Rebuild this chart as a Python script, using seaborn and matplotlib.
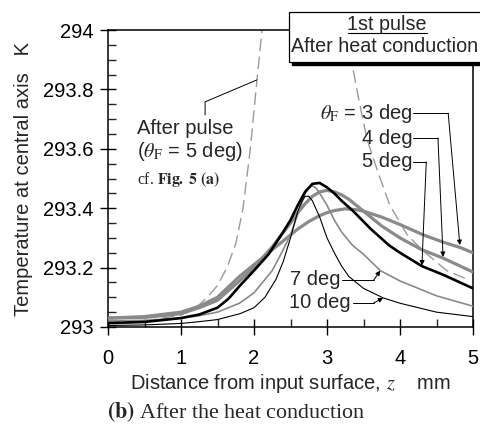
import numpy as np
import pandas as pd
import matplotlib
matplotlib.use("Agg")
import matplotlib.pyplot as plt
import seaborn as sns
from matplotlib.patches import Rectangle
from matplotlib.lines import Line2D
from matplotlib.ticker import MultipleLocator, FixedLocator, FixedFormatter

# ---------------- data ----------------
x_pulse = [0, 0.5, 1.0, 1.12, 1.25, 1.36, 1.5, 1.63, 1.75, 1.85, 1.95, 2.04, 2.11, 2.3, 2.6, 2.9,
           3.2, 3.34, 3.44, 3.55, 3.7, 3.86, 4.1, 4.3, 4.64, 4.93]
y_pulse = [293.02, 293.02, 293.04, 293.055, 293.075, 293.10, 293.14, 293.20, 293.28, 293.40,
           293.60, 293.83, 294.0, 294.3, 294.55, 294.5, 294.15, 293.89, 293.76, 293.63, 293.52,
           293.41, 293.31, 293.26, 293.19, 293.16]

x_3 = [0, 0.5, 1.0, 1.25, 1.5, 1.8, 2.0, 2.25, 2.5, 2.6, 2.75, 2.9, 3.0, 3.1, 3.25, 3.4, 3.5, 3.75,
       4.0, 4.32, 4.6, 4.82, 5.0]
y_3 = [293.03, 293.035, 293.05, 293.07, 293.10, 293.17, 293.21, 293.26, 293.31, 293.33, 293.355,
       293.375, 293.385, 293.392, 293.398, 293.395, 293.39, 293.37, 293.345, 293.31, 293.285,
       293.268, 293.25]

x_4 = [0, 0.5, 1.0, 1.25, 1.5, 1.8, 2.0, 2.25, 2.5, 2.6, 2.7, 2.8, 2.9, 3.0, 3.1, 3.2, 3.3, 3.4,
       3.5, 3.75, 4.0, 4.3, 4.59, 5.0]
y_4 = [293.03, 293.032, 293.045, 293.065, 293.09, 293.155, 293.2, 293.27, 293.35, 293.385,
       293.415, 293.44, 293.455, 293.46, 293.455, 293.445, 293.43, 293.41, 293.39, 293.34, 293.30,
       293.26, 293.232, 293.185]

x_5 = [0, 0.5, 1.0, 1.25, 1.5, 1.65, 1.81, 2.0, 2.2, 2.4, 2.5, 2.6, 2.7, 2.8, 2.9, 3.0, 3.1, 3.2,
       3.36, 3.5, 3.6, 3.85, 4.0, 4.3, 4.6, 5.0]
y_5 = [293.013, 293.017, 293.03, 293.042, 293.065, 293.095, 293.14, 293.19, 293.245, 293.32,
       293.36, 293.41, 293.455, 293.482, 293.485, 293.47, 293.45, 293.425, 293.39, 293.355,
       293.33, 293.275, 293.25, 293.205, 293.175, 293.13]

x_7 = [0, 0.5, 1.0, 1.25, 1.5, 1.8, 2.0, 2.25, 2.4, 2.5, 2.6, 2.7, 2.75, 2.8, 2.85, 2.9, 3.0, 3.1,
       3.2, 3.35, 3.5, 3.73, 4.0, 4.5, 5.0]
y_7 = [293.02, 293.022, 293.03, 293.038, 293.05, 293.08, 293.115, 293.19, 293.26, 293.31,
       293.38, 293.45, 293.47, 293.475, 293.468, 293.45, 293.41, 293.36, 293.32, 293.275, 293.245,
       293.19, 293.155, 293.105, 293.07]

x_10 = [0, 0.5, 1.0, 1.25, 1.5, 1.81, 2.0, 2.15, 2.3, 2.4, 2.5, 2.6, 2.65, 2.7, 2.75, 2.8, 2.9,
        3.0, 3.1, 3.2, 3.3, 3.4, 3.5, 3.77, 4.0, 4.5, 5.0]
y_10 = [293.005, 293.007, 293.012, 293.018, 293.025, 293.045, 293.065, 293.1, 293.16, 293.22,
        293.30, 293.39, 293.42, 293.44, 293.44, 293.425, 293.37, 293.30, 293.25, 293.205, 293.17,
        293.15, 293.13, 293.098, 293.08, 293.05, 293.035]

x_ticks = [0, 1, 2, 3, 4, 5]
y_ticks = [293, 293.2, 293.4, 293.6, 293.8, 294]
y_tick_labels = ["293", "293.2", "293.4", "293.6", "293.8", "294"]

# ---------------- style ----------------
sns.set_style("ticks")
plt.rcParams["font.family"] = ["Liberation Sans", "DejaVu Sans"]
plt.rcParams["mathtext.fontset"] = "stix"
FS = 14.5
GRAY = "#8a8a8a"

fig = plt.figure(figsize=(4.8, 4.3), dpi=100)
W, H = 480.0, 430.0
ax = fig.add_axes([108 / W, 1 - 327 / H, (473 - 108) / W, (327 - 30) / H])

sns.lineplot(x=x_pulse, y=y_pulse, ax=ax, color="#9a9a9a", lw=1.0, zorder=2)
ax.lines[-1].set_dashes((9, 4))
sns.lineplot(x=x_3, y=y_3, ax=ax, color=GRAY, lw=2.3, zorder=3)
sns.lineplot(x=x_4, y=y_4, ax=ax, color=GRAY, lw=2.3, zorder=3)
sns.lineplot(x=x_7, y=y_7, ax=ax, color=GRAY, lw=1.2, zorder=4)
sns.lineplot(x=x_10, y=y_10, ax=ax, color="black", lw=0.8, zorder=4)
sns.lineplot(x=x_5, y=y_5, ax=ax, color="black", lw=1.9, zorder=5)
for ln in ax.lines:
    ln.set_solid_joinstyle("round")

ax.set_xlim(0, 5)
ax.set_ylim(293, 294)
ax.xaxis.set_major_locator(FixedLocator(x_ticks))
ax.xaxis.set_minor_locator(MultipleLocator(0.5))
ax.yaxis.set_major_locator(FixedLocator(y_ticks))
ax.yaxis.set_major_formatter(FixedFormatter(y_tick_labels))
ax.yaxis.set_minor_locator(MultipleLocator(0.05))
ax.tick_params(which="major", direction="inout", length=11, width=1.0, labelsize=FS, colors="black")
ax.tick_params(axis="x", which="major", pad=10)
ax.tick_params(axis="y", which="major", pad=5)
ax.tick_params(which="minor", direction="in", length=6, width=1.0)
for s in ax.spines.values():
    s.set_linewidth(1.1)
    s.set_color("black")

ax.set_xlabel("Distance from input surface, $z$    mm", fontsize=FS, labelpad=3)
ax.set_ylabel("Temperature at central axis   K", fontsize=FS, labelpad=7)

# ---------------- annotations ----------------
ax.text(0.40, 293.67, "After pulse", fontsize=FS, ha="left", va="center")
ax.text(0.40, 293.59, r"($\theta_{\rm F}$ = 5 deg)", fontsize=FS, ha="left", va="center")
ax.text(0.40, 293.497, r"cf. $\mathbf{Fig.\ 5\ (a)}$", fontsize=11.3, ha="left", va="center",
        family=["Liberation Serif"])
ax.plot([1.33, 1.33, 2.04], [293.714, 293.758, 293.832], color="black", lw=0.7, zorder=6)

arrow = dict(arrowstyle="-|>", color="black", lw=0.7, mutation_scale=7, shrinkA=0, shrinkB=0)
labels_r = [(r"$\theta_{\rm F}$ = 3 deg", 293.72, 4.66, (4.82, 293.276)),
            ("4 deg", 293.636, 4.52, (4.59, 293.236)),
            ("5 deg", 293.556, 4.36, (4.30, 293.207))]
for txt, yy, xc, tip in labels_r:
    ax.text(4.17, yy, txt, fontsize=FS, ha="right", va="center", zorder=7)
    ax.plot([4.18, xc], [yy, yy], color="black", lw=0.7, zorder=6)
    ax.annotate("", xy=tip, xytext=(xc, yy), arrowprops=arrow, zorder=6)

ax.text(3.18, 293.16, "7 deg", fontsize=FS, ha="right", va="center", zorder=7)
ax.plot([3.21, 3.64], [293.158, 293.158], color="black", lw=0.7, zorder=6)
ax.annotate("", xy=(3.73, 293.19), xytext=(3.64, 293.158), arrowprops=arrow, zorder=6)
ax.text(3.32, 293.083, "10 deg", fontsize=FS, ha="right", va="center", zorder=7)
ax.plot([3.35, 3.64], [293.081, 293.081], color="black", lw=0.7, zorder=6)
ax.annotate("", xy=(3.77, 293.098), xytext=(3.64, 293.081), arrowprops=arrow, zorder=6)

# ---------------- title box ----------------
def fx(px):
    return px / W

def fy(py):
    return 1 - py / H

shadow = Rectangle((fx(292), fy(65)), fx(200), fy(15) - fy(65), transform=fig.transFigure,
                   facecolor="black", edgecolor="black", zorder=20)
box = Rectangle((fx(289), fy(62)), fx(200), fy(12) - fy(62), transform=fig.transFigure,
                facecolor="white", edgecolor="black", lw=0.9, zorder=21)
fig.add_artist(shadow)
fig.add_artist(box)
fig.text(fx(387), fy(24), "1st pulse", fontsize=14.2, ha="center", va="center", zorder=22)
fig.add_artist(Line2D([fx(348), fx(427)], [fy(33), fy(33)], transform=fig.transFigure,
                      color="black", lw=0.8, zorder=22))
fig.text(fx(385), fy(47), "After heat conduction", fontsize=14.2, ha="center", va="center",
         zorder=22)

# ---------------- caption ----------------
fig.text(fx(236), fy(412), r"$\mathbf{(b)}$ After the heat conduction", fontsize=15.8,
         ha="center", va="center", family=["Liberation Serif"])

fig.savefig("out.png", dpi=100)
